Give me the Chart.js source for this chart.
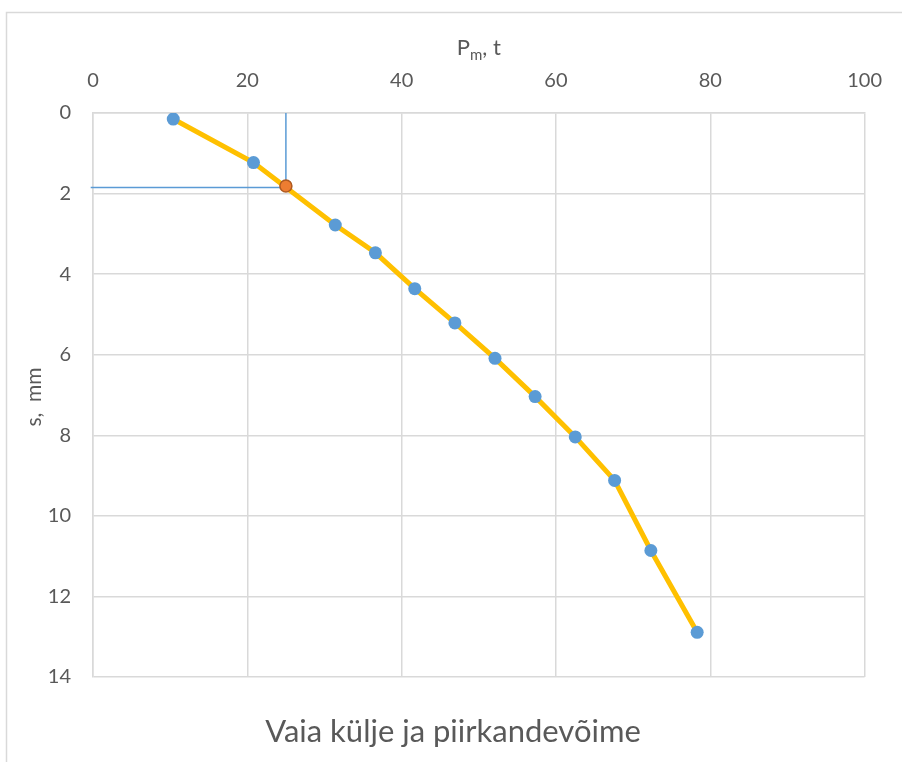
<!DOCTYPE html>
<html>
<head>
<meta charset="utf-8">
<script src="https://cdn.jsdelivr.net/npm/chart.js@4.4.0/dist/chart.umd.min.js"></script>
<style>
  body { margin: 0; background: #fff; }
  #wrap { width: 902px; height: 762px; }
</style>
</head>
<body>
<div id="wrap"><canvas id="pileChart" width="902" height="762"></canvas></div>
<script>
// katsekoormus P (t) ja vajum s (mm)
const loadP = [10.4, 20.8, 31.4, 36.6, 41.7, 46.9, 52.1, 57.3, 62.5, 67.6, 72.3, 78.3];
const settleS = [0.15, 1.23, 2.78, 3.47, 4.36, 5.21, 6.09, 7.04, 8.04, 9.12, 10.86, 12.89];
// piirkandevõime punkt
const limitP = [25.0];
const limitS = [1.81];
// abijooned punktini
const guideP = [-0.3, 25.0, 25.0];
const guideS = [1.85, 1.85, 0];
const xTicks = [0, 20, 40, 60, 80, 100];
const yTicks = [0, 2, 4, 6, 8, 10, 12, 14];
const chartTitle = "Vaia külje ja piirkandevõime";

const txtColor = "#595959";
const gridColor = "#d9d9d9";
const fam = "Lato, 'Open Sans', sans-serif";

function toPoints(xs, ys) {
  return xs.map((x, i) => ({ x: x, y: ys[i] }));
}

// raam, pealkiri ja telgede pealkirjad (subscript jaoks käsitsi)
const extras = {
  id: "extras",
  beforeDraw(chart) {
    const c = chart.ctx;
    c.save();
    c.strokeStyle = gridColor;
    c.lineWidth = 1.5;
    c.beginPath();
    c.moveTo(6.5, 762);
    c.lineTo(6.5, 12.5);
    c.lineTo(902, 12.5);
    c.stroke();
    c.restore();
  },
  afterDraw(chart) {
    const c = chart.ctx;
    const a = chart.chartArea;
    c.save();
    c.fillStyle = txtColor;
    c.textBaseline = "alphabetic";
    // P_m, t
    c.font = "22px " + fam;
    const wP = c.measureText("P").width;
    const wT = c.measureText(", t").width;
    c.font = "15px " + fam;
    const wM = c.measureText("m").width;
    let x0 = (a.left + a.right) / 2 - (wP + wM + wT) / 2;
    const base = 55;
    c.font = "22px " + fam;
    c.fillText("P", x0, base);
    c.font = "15px " + fam;
    c.fillText("m", x0 + wP, base + 5);
    c.font = "22px " + fam;
    c.fillText(", t", x0 + wP + wM, base);
    // diagrammi pealkiri
    c.textAlign = "center";
    c.font = "31px " + fam;
    c.fillText(chartTitle, 453, 742);
    // s, mm
    c.translate(34, (a.top + a.bottom) / 2 + 2);
    c.rotate(-Math.PI / 2);
    c.textBaseline = "middle";
    c.font = "21px " + fam;
    c.fillText("s,  mm", 0, 0);
    c.restore();
  }
};

var ctx = document.getElementById("pileChart").getContext("2d");
var pileChart = new Chart(ctx, {
  type: "scatter",
  data: {
    datasets: [
      {
        label: "Piirkandevõime",
        data: toPoints(limitP, limitS),
        pointRadius: 6,
        pointBackgroundColor: "#ed7d31",
        pointBorderColor: "#ae5a21",
        pointBorderWidth: 1.5,
        order: 1
      },
      {
        label: "Katse",
        data: toPoints(loadP, settleS),
        showLine: true,
        borderColor: "#ffc000",
        borderWidth: 5,
        pointRadius: 6.5,
        pointBorderWidth: 0,
        pointBackgroundColor: "#5b9bd5",
        order: 2
      },
      {
        label: "Abijoon",
        data: toPoints(guideP, guideS),
        showLine: true,
        borderColor: "#5b9bd5",
        borderWidth: 1.5,
        pointRadius: 0,
        clip: false,
        order: 3
      }
    ]
  },
  options: {
    responsive: false,
    animation: false,
    layout: { padding: { top: 0, left: 0, right: 36, bottom: 85 } },
    plugins: {
      legend: { display: false },
      tooltip: { enabled: false },
      title: { display: false }
    },
    scales: {
      x: {
        position: "top",
        min: 0,
        max: 100,
        afterFit: (s) => { s.height = 113; },
        afterBuildTicks: (s) => { s.ticks = xTicks.map(v => ({ value: v })); },
        grid: { color: gridColor, lineWidth: 1.5, drawTicks: false },
        border: { color: gridColor, width: 1.5 },
        ticks: { color: txtColor, padding: 20, maxRotation: 0, font: { family: fam, size: 20 } }
      },
      y: {
        reverse: true,
        min: 0,
        max: 14,
        afterFit: (s) => { s.width = 93; },
        afterBuildTicks: (s) => { s.ticks = yTicks.map(v => ({ value: v })); },
        grid: { color: gridColor, lineWidth: 1.5, drawTicks: false },
        border: { color: gridColor, width: 1.5 },
        ticks: { color: txtColor, padding: 22, font: { family: fam, size: 20 } }
      }
    }
  },
  plugins: [extras]
});
</script>
</body>
</html>
